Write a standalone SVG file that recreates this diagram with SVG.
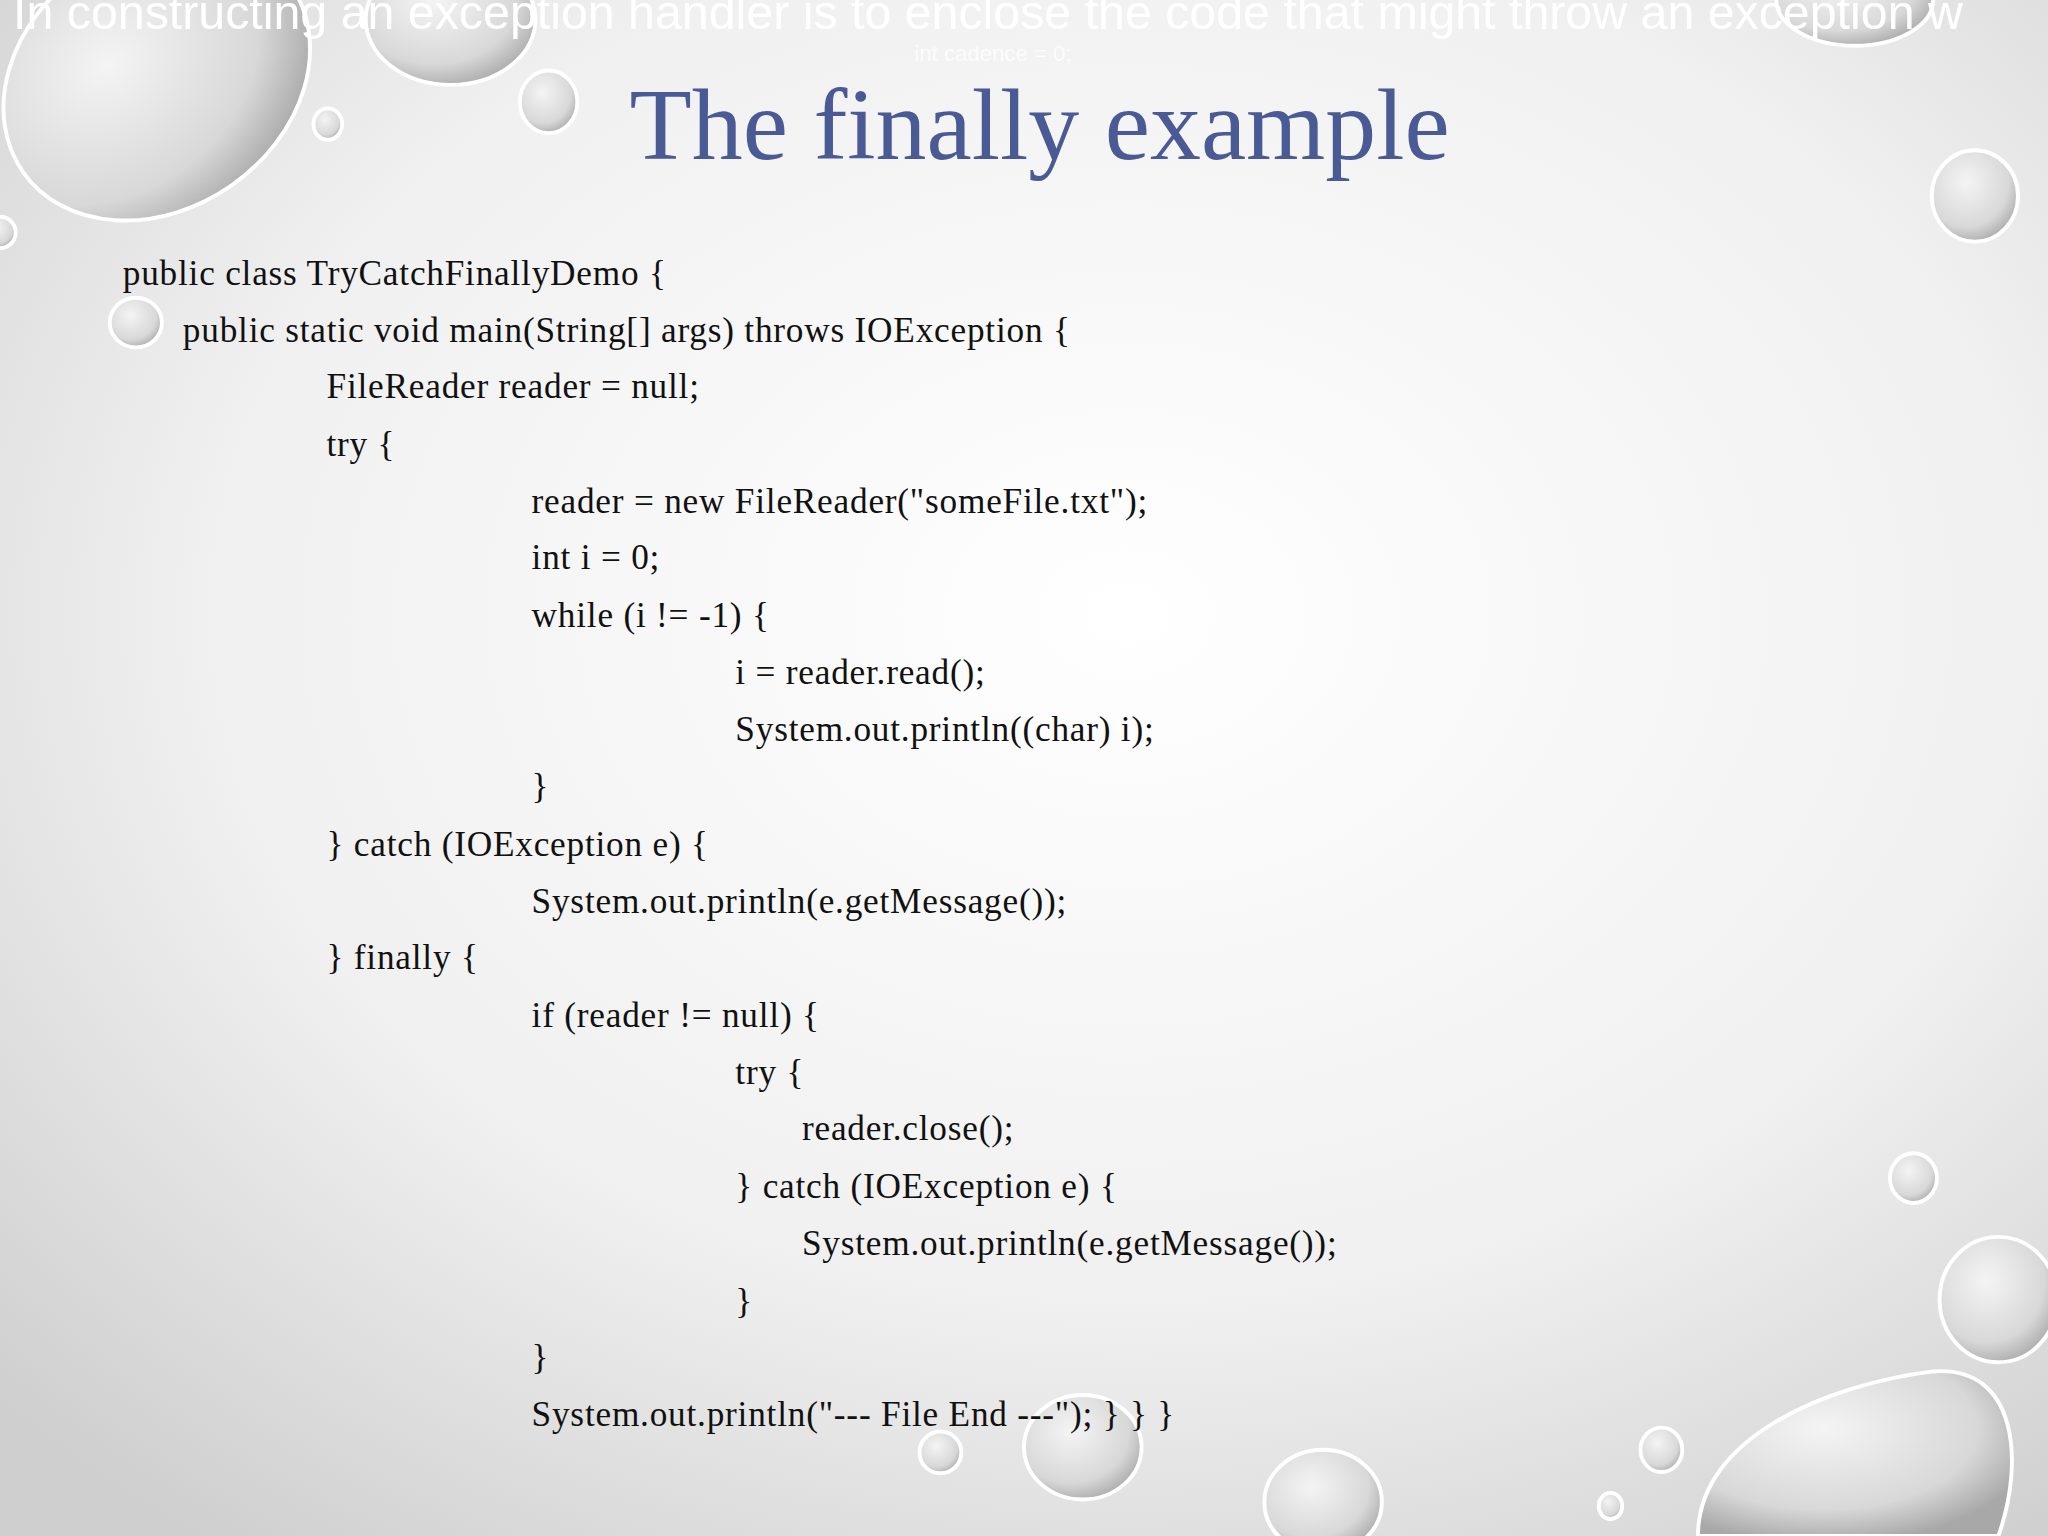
<svg xmlns="http://www.w3.org/2000/svg" width="2048" height="1536" viewBox="0 0 2048 1536">
<defs>
<radialGradient id="bg" cx="0.55" cy="0.4" r="0.75">
<stop offset="0" stop-color="#ffffff"/><stop offset="0.6" stop-color="#f0f0f0"/><stop offset="1" stop-color="#cfcfcf"/>
</radialGradient>
<radialGradient id="drop" cx="0.4" cy="0.35" r="0.7">
<stop offset="0" stop-color="#f4f4f4"/><stop offset="0.7" stop-color="#d8d8d8"/><stop offset="1" stop-color="#a8a8a8"/>
</radialGradient>
<style>
.c{font-family:"Liberation Serif",serif;font-size:27px;letter-spacing:0.6px;fill:#111}
.d{fill:url(#drop);stroke:#ffffff;stroke-width:3}
</style>
</defs>
<rect width="2048" height="1536" fill="url(#bg)"/>
<g transform="scale(1.30612)">
<g id="drops">
<ellipse class="d" cx="120" cy="60" rx="125" ry="100" transform="rotate(-35 120 60)"/>
<ellipse class="d" cx="345" cy="15" rx="65" ry="50"/>
<ellipse class="d" cx="420" cy="78" rx="22" ry="24"/>
<ellipse class="d" cx="251" cy="95" rx="11" ry="12"/>
<ellipse class="d" cx="1420" cy="0" rx="60" ry="35"/>
<ellipse class="d" cx="1512" cy="150" rx="33" ry="35"/>
<ellipse class="d" cx="104" cy="247" rx="20" ry="19"/>
<ellipse class="d" cx="1465" cy="902" rx="18" ry="19"/>
<ellipse class="d" cx="1530" cy="995" rx="45" ry="48"/>
<path class="d" d="M1300 1176 C1300 1100 1400 1060 1480 1050 C1545 1045 1550 1120 1530 1176 Z"/>
<ellipse class="d" cx="1272" cy="1110" rx="16" ry="17"/>
<ellipse class="d" cx="1013" cy="1150" rx="45" ry="40"/>
<ellipse class="d" cx="829" cy="1108" rx="45" ry="40"/>
<ellipse class="d" cx="720" cy="1112" rx="16" ry="16"/>
<ellipse class="d" cx="1233" cy="1153" rx="9" ry="10"/>
<ellipse class="d" cx="0" cy="178" rx="12" ry="12"/>
</g>
<text x="10" y="22" font-family="Liberation Sans,sans-serif" font-size="37" fill="#ffffff">In constructing an exception handler is to enclose the code that might throw an exception w</text>
<text x="700" y="47" font-family="Liberation Sans,sans-serif" font-size="17" fill="#ffffff" opacity="0.8">int cadence = 0;</text>
<text id="title" x="796" y="122" text-anchor="middle" font-family="Liberation Serif,serif" font-size="78" fill="#4a5a94">The finally example</text>
<g id="code">
<text class="c" x="94" y="218">public class TryCatchFinallyDemo {</text>
<text class="c" x="140" y="262">public static void main(String[] args) throws IOException {</text>
<text class="c" x="250" y="305">FileReader reader = null;</text>
<text class="c" x="250" y="349">try {</text>
<text class="c" x="407" y="393">reader = new FileReader("someFile.txt");</text>
<text class="c" x="407" y="436">int i = 0;</text>
<text class="c" x="407" y="480">while (i != -1) {</text>
<text class="c" x="563" y="524">i = reader.read();</text>
<text class="c" x="563" y="567">System.out.println((char) i);</text>
<text class="c" x="407" y="611">}</text>
<text class="c" x="250" y="655">} catch (IOException e) {</text>
<text class="c" x="407" y="699">System.out.println(e.getMessage());</text>
<text class="c" x="250" y="742">} finally {</text>
<text class="c" x="407" y="786">if (reader != null) {</text>
<text class="c" x="563" y="830">try {</text>
<text class="c" x="614" y="873">reader.close();</text>
<text class="c" x="563" y="917">} catch (IOException e) {</text>
<text class="c" x="614" y="961">System.out.println(e.getMessage());</text>
<text class="c" x="563" y="1005">}</text>
<text class="c" x="407" y="1048">}</text>
<text class="c" x="407" y="1092">System.out.println("--- File End ---"); } } }</text>
</g>
</g>
</svg>
